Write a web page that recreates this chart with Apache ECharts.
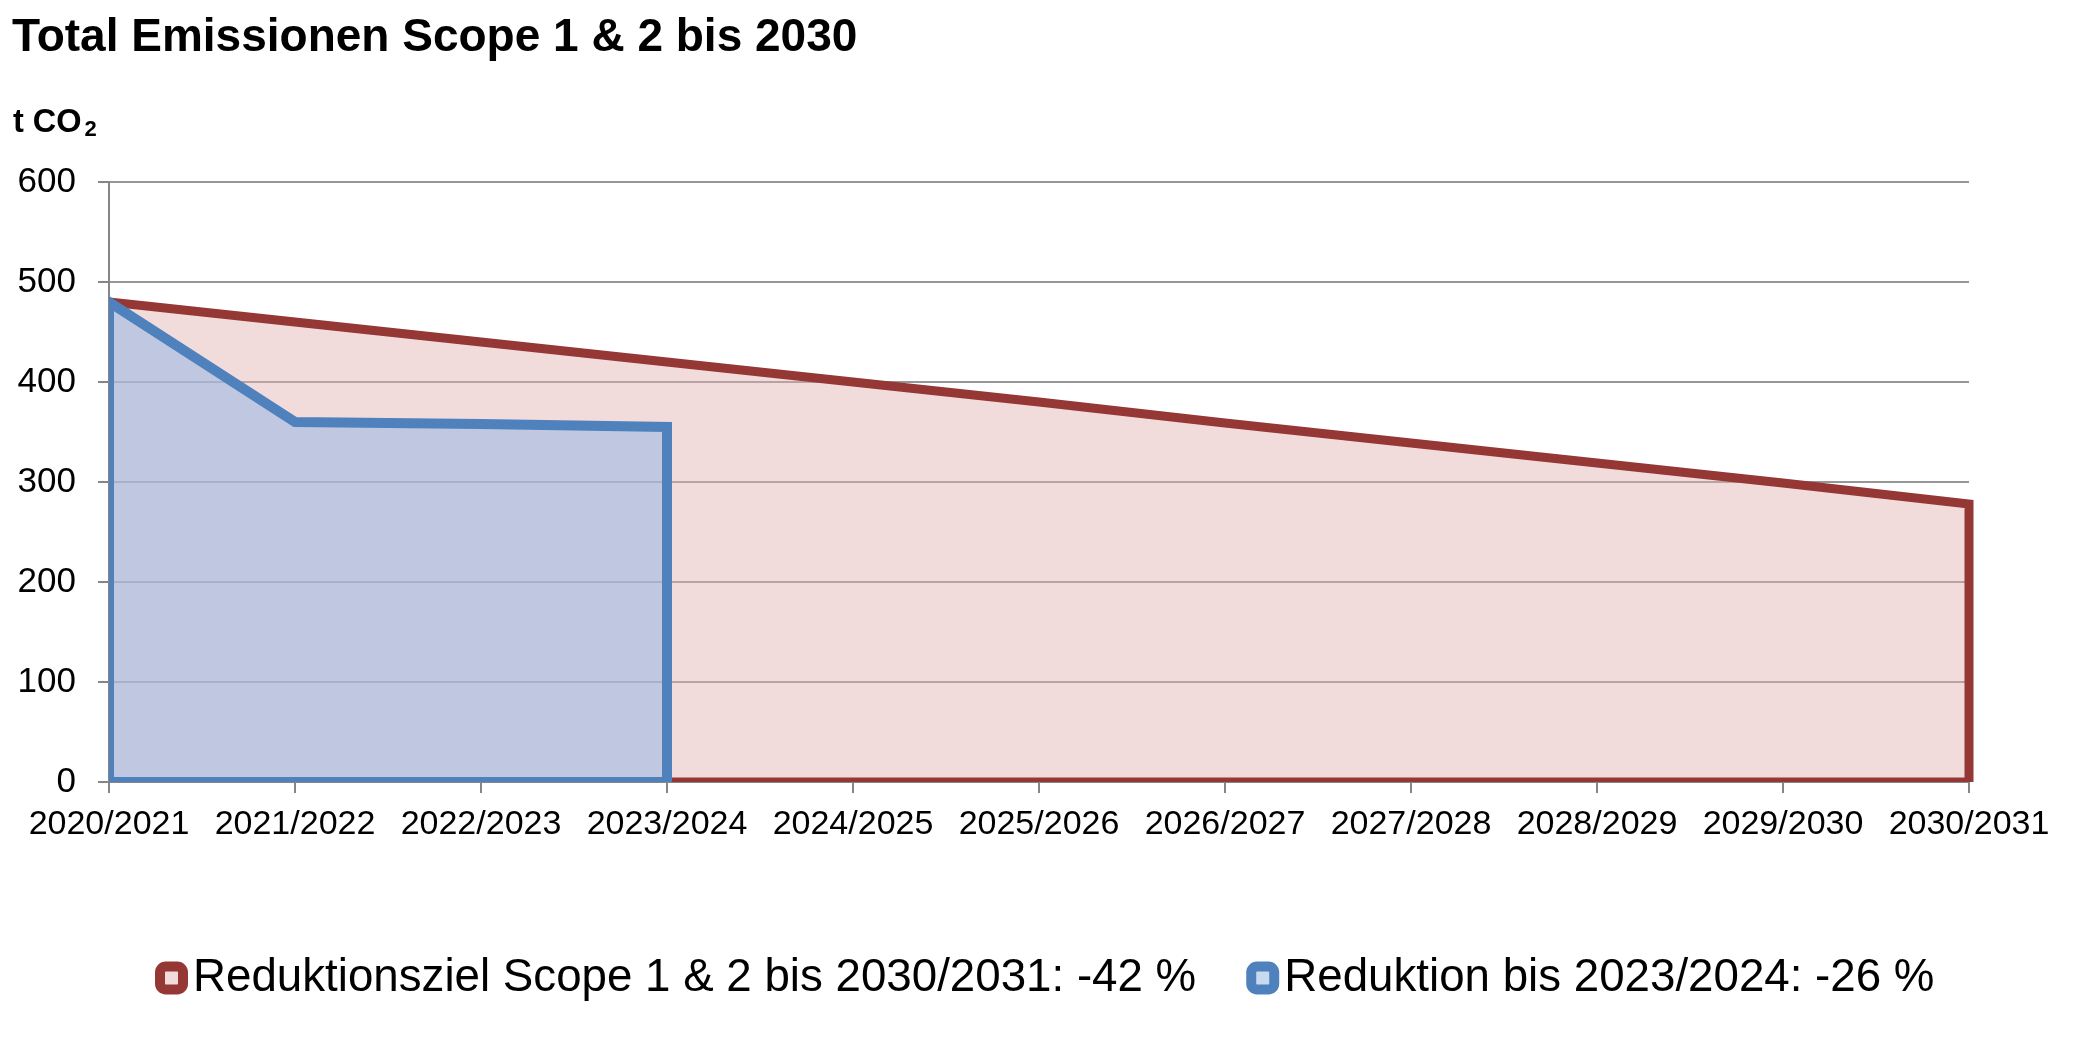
<!DOCTYPE html>
<html>
<head>
<meta charset="utf-8">
<script src="https://cdn.jsdelivr.net/npm/echarts@6/dist/echarts.min.js"></script>
<style>
html,body{margin:0;padding:0;background:#ffffff;}
#chart{width:2079px;height:1042px;}
</style>
</head>
<body>
<div id="chart"></div>
<script>
// ---- data ----
const titleText = 'Total Emissionen Scope 1 & 2 bis 2030';
const unitMain = 't CO';
const unitSub = '2';
const categories = ['2020/2021','2021/2022','2022/2023','2023/2024','2024/2025','2025/2026','2026/2027','2027/2028','2028/2029','2029/2030','2030/2031'];
const yMin = 0;
const yMax = 600;
const yStep = 100;
const targetName = 'Reduktionsziel Scope 1 & 2 bis 2030/2031: -42 %';
const actualName = 'Reduktion bis 2023/2024: -26 %';
const targetValues = [480, 460, 440, 420, 400, 380, 359, 339, 319, 299, 278];
const actualValues = [480, 360, 358, 355];

const FONT = "'Liberation Sans', Arial, Helvetica, sans-serif";
const RED = '#953735';
const BLUE = '#4F81BD';

// outline of an area: the top edge from the data, closed down to zero (Excel-style area border)
function outlineSeries(name, vals, color, width, z) {
  return {
    name: name, type: 'custom', z: z, silent: true, clip: false,
    data: vals.map((v, i) => [i, v]),
    renderItem: function (params, api) {
      if (params.dataIndex !== 0) return null;
      const n = params.dataInsideLength;
      const pts = [];
      for (let i = 0; i < n; i++) pts.push(api.coord([api.value(0, i), api.value(1, i)]));
      pts.push(api.coord([api.value(0, n - 1), 0]));
      pts.push(api.coord([api.value(0, 0), 0]));
      const cs = params.coordSys;
      return {
        type: 'polygon',
        shape: {points: pts},
        style: {fill: 'none', stroke: color, lineWidth: width, lineJoin: 'miter'},
        clipPath: {type: 'rect', shape: {x: cs.x, y: cs.y - 40, width: cs.width + 40, height: cs.height + 40}}
      };
    }
  };
}

const chart = echarts.init(document.getElementById('chart'), null, {renderer: 'canvas'});
chart.setOption({
  animation: false,
  backgroundColor: '#ffffff',
  textStyle: {fontFamily: FONT},
  title: [
    {text: titleText, left: 12, top: 15, padding: 0,
     textStyle: {fontSize: 46, fontWeight: 'bold', color: '#000', fontFamily: FONT}},
    {text: '{a|' + unitMain + '}{s|' + unitSub + '}', left: 13, top: 105, padding: 0,
     textStyle: {
       fontFamily: FONT,
       rich: {
         a: {fontSize: 32.5, fontWeight: 'bold', color: '#000', lineHeight: 36, fontFamily: FONT},
         s: {fontSize: 22, fontWeight: 'bold', color: '#000', lineHeight: 21, verticalAlign: 'bottom', padding: [0, 0, 0, 3], fontFamily: FONT}
       }
     }}
  ],
  legend: {
    left: 155, top: 955, padding: 0,
    itemWidth: 23, itemHeight: 23, itemGap: 50,
    icon: 'roundRect',
    textStyle: {fontSize: 45.7, color: '#000', fontFamily: FONT, padding: [0, 0, 0, 5]},
    data: [
      {name: targetName, itemStyle: {color: '#F2DCDB', borderColor: RED, borderWidth: 10}},
      {name: actualName, itemStyle: {color: '#C8DAF0', borderColor: BLUE, borderWidth: 10}}
    ]
  },
  grid: {left: 109, right: 110, top: 182, bottom: 260, containLabel: false},
  xAxis: {
    type: 'category',
    data: categories,
    boundaryGap: false,
    axisLine: {lineStyle: {color: '#868686', width: 2}},
    axisTick: {show: true, length: 11, lineStyle: {color: '#868686', width: 2}},
    axisLabel: {interval: 0, margin: 26, fontSize: 34, color: '#000', fontFamily: FONT},
    splitLine: {show: false}
  },
  yAxis: {
    type: 'value',
    min: yMin, max: yMax, interval: yStep,
    axisLine: {show: true, lineStyle: {color: '#868686', width: 2}},
    axisTick: {show: true, length: 11, lineStyle: {color: '#868686', width: 2}},
    axisLabel: {margin: 33, fontSize: 35, color: '#000', fontFamily: FONT},
    splitLine: {show: true, lineStyle: {color: '#969696', width: 2}}
  },
  series: [
    {
      name: targetName, type: 'line', data: targetValues, z: 2,
      symbol: 'none', showSymbol: false, silent: true,
      lineStyle: {width: 0},
      itemStyle: {color: RED},
      areaStyle: {color: 'rgba(227,178,176,0.46)', opacity: 1}
    },
    outlineSeries('targetOutline', targetValues, RED, 9, 3),
    {
      name: actualName, type: 'line', data: actualValues, z: 4,
      symbol: 'none', showSymbol: false, silent: true,
      lineStyle: {width: 0},
      itemStyle: {color: BLUE},
      areaStyle: {color: 'rgba(159,187,229,0.6)', opacity: 1}
    },
    outlineSeries('actualOutline', actualValues, BLUE, 10, 5)
  ]
});
</script>
</body>
</html>
